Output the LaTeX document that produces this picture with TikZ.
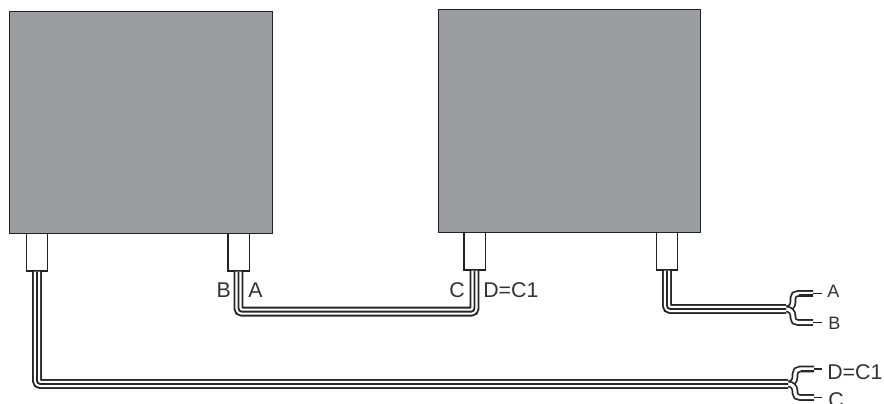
\documentclass[tikz,border=0pt]{standalone}
\usepackage{fontspec}
\setmainfont{Liberation Sans}
\usetikzlibrary{calc}
\definecolor{boxgrey}{HTML}{9C9DA1}
\definecolor{linegrey}{HTML}{222222}
\tikzset{
  x=0.75pt,y=-0.75pt,
  unit/.style={draw=linegrey,fill=boxgrey,line width=1.1pt,minimum width=#1,inner sep=0pt,anchor=north west,rectangle},
  plug/.style={draw=linegrey,fill=white,line width=1pt,inner sep=0pt,anchor=north,minimum width=16pt,minimum height=28pt,rectangle},
  cable/.style={rounded corners=2.5pt,line join=round,
    preaction={draw=black!85,line width=7.4pt},
    draw=white,line width=4.6pt,
    postaction={draw=black!85,line width=1.4pt}},
  lead/.style={line join=round,
    preaction={draw=black!85,line width=5pt},
    draw=white,line width=2.4pt},
  tail/.style={draw=black!85,line width=1.9pt},
  stub/.style={draw=black!85,line width=1pt},
  lab/.style={font=\fontsize{16pt}{18pt}\selectfont,text=black!80,inner sep=0pt},
  labs/.style={font=\fontsize{13.5pt}{16pt}\selectfont,text=black!80,inner sep=0pt},
}
\begin{document}
\begin{tikzpicture}
\useasboundingbox (0,0) rectangle (884,403);
\node[unit=197pt,minimum height=166.5pt] (u1) at (9,11) {};
\node[unit=196.5pt,minimum height=167pt] (u2) at (438,9) {};
\node[plug] (p1) at (37,233) {};
\node[plug] (p2) at (238.5,233) {};
\node[plug] (p3) at (474.5,232) {};
\node[plug] (p4) at (667,232) {};
\coordinate (f1) at (786,309);
\coordinate (f2) at (788,384);
\coordinate (a1) at (813,293.5);
\coordinate (b1) at (813,322.5);
\coordinate (a2) at (814,369);
\coordinate (b2) at (814,397.5);
\coordinate (ae) at (822,293.5);
\coordinate (be) at (822,322.5);
\coordinate (ce) at (822,369);
\coordinate (de) at (822,397.5);
\node[labs,anchor=west] (la) at (827,291) {A};
\node[labs,anchor=west] (lb) at (828,323) {B};
\node[lab,anchor=west] (ld) at (827,372) {D=C1};
\node[lab,anchor=west] (lc) at (828,400) {C};
\node[lab,anchor=east] (lB) at (231,290) {B};
\node[lab,anchor=west] (lA) at (248,290) {A};
\node[lab,anchor=east] (lC) at (465,290) {C};
\node[lab,anchor=west] (lD) at (483,290) {D=C1};
% leads of the forks
\draw[lead] (f1) .. controls (790,309) and (793,306) .. (793,302) -- (793,298) .. controls (793,295) and (795,293.5) .. (798,293.5) -- (a1);
\draw[lead] (f1) .. controls (790,309) and (793,312) .. (793,316) -- (793,318) .. controls (793,321) and (795,322.5) .. (798,322.5) -- (b1);
\draw[lead] (f2) .. controls (792,384) and (795,381) .. (795,377) -- (795,374) .. controls (795,371) and (797,369) .. (800,369) -- (a2);
\draw[lead] (f2) .. controls (792,384) and (795,387) .. (795,391) -- (795,393) .. controls (795,396) and (797,397.5) .. (800,397.5) -- (b2);
\draw[tail] (799,295.3) -- (813,295.3);
\draw[tail] (801,370.8) -- (814,370.8);
\draw[stub] (a1) -- (ae);
\draw[stub] (b1) -- (be);
\draw[stub] (a2) -- (ce);
\draw[stub] (b2) -- (de);
% cables
\path[cable] (p1.south) |- (f2);
\path[cable] (p2.south) -- ++(0,40) -| (p3.south);
\path[cable] (p4.south) |- (f1);
\end{tikzpicture}
\end{document}
